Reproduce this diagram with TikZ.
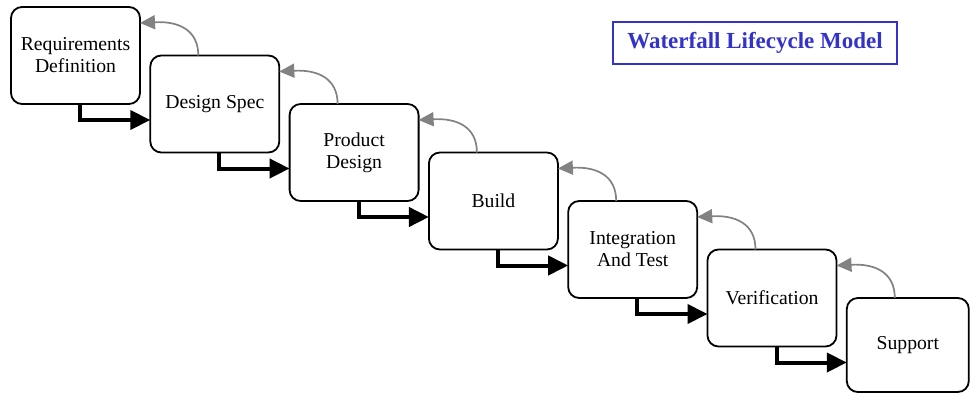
\documentclass[tikz,border=0pt]{standalone}
\usepackage{fontspec}
\setmainfont{Liberation Serif}
\usetikzlibrary{arrows.meta}
\definecolor{titleblue}{RGB}{51,51,204}
\definecolor{backgrey}{RGB}{130,130,130}

\begin{document}
\begin{tikzpicture}[x=1pt,y=-1pt,
  phase/.style={draw, line width=1.8pt, rounded corners=11pt,
    minimum width=129pt, minimum height=97pt, align=center,
    inner sep=0pt, outer sep=0pt, anchor=north west,
    font=\fontsize{19.7}{22}\selectfont},
  flow/.style={line width=4pt,
    -{Triangle[length=20pt,width=19pt]}},
  back/.style={draw=backgrey, line width=1.7pt,
    -{Triangle[length=15pt,width=14pt,fill=backgrey]}},
  heading/.style={draw=titleblue, line width=1.8pt, text=titleblue,
    minimum width=284pt, minimum height=42pt, inner sep=0pt,
    font=\bfseries\fontsize{23}{26}\selectfont},
]
\useasboundingbox (0,0) rectangle (971,393);

% the seven phases, stepping down to the right
\node[phase] (p1) at (11,7)       {Requirements\\Definition};
\node[phase] (p2) at (150.3,55.5) {Design Spec};
\node[phase] (p3) at (289.6,104)  {Product\\Design};
\node[phase] (p4) at (428.9,152.5){Build};
\node[phase] (p5) at (568.2,201)  {Integration\\And Test};
\node[phase] (p6) at (707.5,249.5){Verification};
\node[phase, minimum width=122pt, minimum height=94pt] (p7) at (846.8,298) {Support};

% title
\node[heading] (title) at (755,43) {Waterfall Lifecycle Model};

% forward flow and feedback between consecutive phases
\foreach \a/\b in {p1/p2,p2/p3,p3/p4,p4/p5,p5/p6,p6/p7}{
  \draw[flow] ([xshift=69pt]\a.south west) |- ([yshift=-16pt]\a.south -| \b.west);
  \draw[back] ([xshift=48pt]\b.north west)
    .. controls +(0,-26) and +(38,-2) .. ([yshift=-16pt]\a.north east);
}
\end{tikzpicture}
\end{document}
